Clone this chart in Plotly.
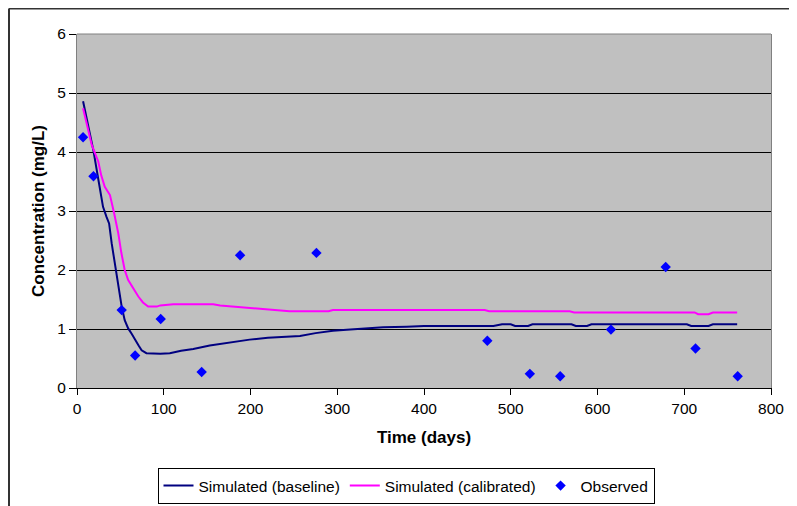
import plotly.graph_objects as go

# ---- data ----
base_days = [7, 13, 19, 25, 30, 34, 37, 40, 44, 48, 51.5, 55, 59, 63, 67, 71, 74.5, 80, 96, 107,
             120, 134, 153, 180, 199, 220, 240, 257, 275, 295, 315, 334, 353, 380, 400, 480, 490,
             500, 505, 520, 525, 570, 575, 588, 593, 703, 708, 728, 733, 761]
base_conc = [4.86, 4.45, 4.02, 3.5, 3.07, 2.9, 2.79, 2.45, 2.06, 1.7, 1.38, 1.15, 1.01, 0.92, 0.81,
             0.72, 0.64, 0.59, 0.58, 0.59, 0.63, 0.66, 0.72, 0.78, 0.82, 0.85, 0.87, 0.88, 0.93,
             0.97, 0.99, 1.01, 1.03, 1.04, 1.05, 1.05, 1.08, 1.08, 1.05, 1.05, 1.08, 1.08, 1.05,
             1.05, 1.08, 1.08, 1.05, 1.05, 1.08, 1.08]

cal_days = [7, 12, 17, 24.5, 28, 32, 35, 38, 43, 47.6, 51, 55, 59, 65, 70.7, 76, 82, 92, 96, 111,
            157, 165, 180, 203, 215, 230, 245, 290, 295, 470, 475, 568, 573, 712, 716, 728, 733, 761]
cal_conc = [4.74, 4.45, 4.12, 3.84, 3.6, 3.41, 3.35, 3.27, 2.95, 2.62, 2.3, 2.0, 1.83, 1.68, 1.55,
            1.45, 1.38, 1.38, 1.40, 1.42, 1.42, 1.40, 1.38, 1.36, 1.34, 1.32, 1.30, 1.30, 1.32,
            1.32, 1.30, 1.30, 1.28, 1.28, 1.25, 1.25, 1.28, 1.28]

obs_days = [7, 19, 51.5, 67, 96.5, 143.7, 188, 276, 473, 522, 557, 615.5, 678.6, 713, 761.6]
obs_conc = [4.25, 3.59, 1.32, 0.55, 1.17, 0.27, 2.25, 2.29, 0.80, 0.24, 0.20, 0.99, 2.05, 0.67, 0.20]

x_ticks = [0, 100, 200, 300, 400, 500, 600, 700, 800]
y_ticks = [0, 1, 2, 3, 4, 5, 6]

FONT = "Liberation Sans, Arial, sans-serif"

# page body has an 8px margin, so the figure is 8px smaller than the window
W, H = 789, 498
L, T, PW, PH = 69, 26, 694, 354

fig = go.Figure()
fig.add_trace(go.Scatter(x=base_days, y=base_conc, mode="lines", name="Simulated (baseline)",
                         line=dict(color="#000080", width=2)))
fig.add_trace(go.Scatter(x=cal_days, y=cal_conc, mode="lines", name="Simulated (calibrated)",
                         line=dict(color="#FF00FF", width=2)))
fig.add_trace(go.Scatter(x=obs_days, y=obs_conc, mode="markers", name="Observed",
                         marker=dict(symbol="diamond", color="#0000FF", size=8)))

fig.update_layout(
    width=W, height=H,
    margin=dict(l=L, r=W - L - PW, t=T, b=H - T - PH, autoexpand=False),
    paper_bgcolor="white",
    plot_bgcolor="#C0C0C0",
    font=dict(family=FONT, size=15.5, color="black"),
    showlegend=True,
    legend=dict(orientation="h", x=(149.5 - L) / PW, xanchor="left", y=(T + PH - 460) / PH, yanchor="top",
                bordercolor="black", borderwidth=1, bgcolor="white",
                font=dict(family=FONT, size=15.5)),
    xaxis=dict(range=[0, 800], tickvals=x_ticks, ticktext=[str(v) for v in x_ticks],
               showgrid=False, zeroline=False, showline=True, linecolor="black", linewidth=1,
               ticks="outside", ticklen=6, tickcolor="black", automargin=False,
               title=dict(text="<b>Time (days)</b>", font=dict(family=FONT, size=17), standoff=15)),
    yaxis=dict(range=[0, 6], tickvals=y_ticks, ticktext=[str(v) for v in y_ticks],
               showgrid=True, gridcolor="black", gridwidth=1, zeroline=False,
               showline=True, linecolor="#808080", linewidth=1, mirror=True,
               ticks="outside", ticklen=7, tickcolor="black", automargin=False,
               title=dict(text="<b>Concentration (mg/L)</b>", font=dict(family=FONT, size=17), standoff=8)),
    shapes=[
        dict(type="line", xref="paper", yref="paper", x0=0, x1=1, y0=1, y1=1,
             line=dict(color="#808080", width=1), layer="above"),
        dict(type="line", xref="paper", yref="paper", x0=(1 - L) / PW, x1=(W - L) / PW,
             y0=(T + PH - 0.5) / PH, y1=(T + PH - 0.5) / PH, line=dict(color="#333333", width=2)),
        dict(type="line", xref="paper", yref="paper", x0=(1 - L) / PW, x1=(1 - L) / PW,
             y0=(T + PH - 0.5) / PH, y1=(T + PH - H) / PH, line=dict(color="#333333", width=2)),
    ],
)

fig.write_html("out.html")
